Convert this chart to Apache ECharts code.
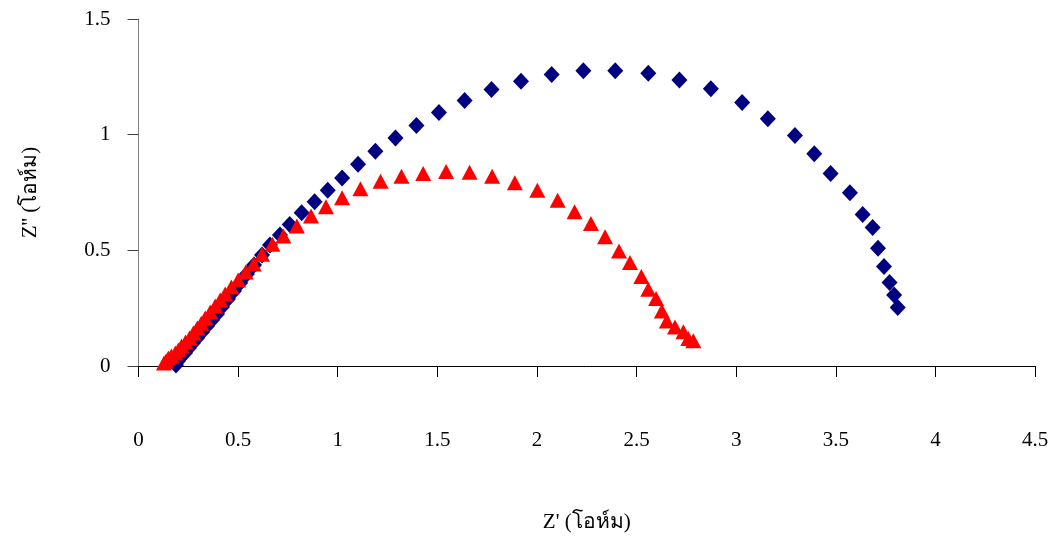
<!DOCTYPE html>
<html>
<head>
<meta charset="utf-8">
<script src="https://cdn.jsdelivr.net/npm/echarts@6/dist/echarts.min.js"></script>
<style>
  html, body { margin: 0; padding: 0; background: #fff; }
  #chart { width: 1056px; height: 545px; }
</style>
</head>
<body>
<div id="chart"></div>
<script>
// Nyquist plot: Z' (real part) vs Z'' (imaginary part), in ohms
const xTicks = [0, 0.5, 1, 1.5, 2, 2.5, 3, 3.5, 4, 4.5];
const yTicks = [0, 0.5, 1, 1.5];

// Sample 1 (navy diamonds)
const blueZre = [0.188, 0.198, 0.213, 0.233, 0.253, 0.273, 0.294, 0.319, 0.344, 0.369,
  0.394, 0.419, 0.449, 0.479, 0.510, 0.544, 0.580, 0.620, 0.660, 0.710,
  0.759, 0.819, 0.884, 0.950, 1.022, 1.102, 1.189, 1.290, 1.395, 1.508,
  1.637, 1.772, 1.920, 2.074, 2.233, 2.393, 2.559, 2.715, 2.873, 3.030,
  3.159, 3.295, 3.392, 3.474, 3.571, 3.635, 3.685, 3.712, 3.742, 3.770,
  3.793, 3.811];
const blueZim = [0.004, 0.022, 0.039, 0.056, 0.078, 0.099, 0.121, 0.147, 0.173, 0.199,
  0.225, 0.255, 0.290, 0.324, 0.359, 0.398, 0.437, 0.480, 0.523, 0.566,
  0.612, 0.663, 0.710, 0.760, 0.813, 0.872, 0.928, 0.986, 1.040, 1.096,
  1.148, 1.195, 1.231, 1.260, 1.276, 1.276, 1.266, 1.236, 1.198, 1.139,
  1.069, 0.996, 0.917, 0.832, 0.749, 0.655, 0.599, 0.509, 0.430, 0.361,
  0.307, 0.253];

// Sample 2 (red triangles)
const redZre = [0.128, 0.138, 0.150, 0.165, 0.185, 0.200, 0.216, 0.236, 0.256, 0.275,
  0.295, 0.315, 0.335, 0.360, 0.385, 0.410, 0.435, 0.466, 0.500, 0.538,
  0.578, 0.620, 0.672, 0.727, 0.795, 0.866, 0.941, 1.022, 1.114, 1.215,
  1.320, 1.429, 1.544, 1.662, 1.775, 1.889, 2.002, 2.104, 2.189, 2.271,
  2.342, 2.412, 2.467, 2.524, 2.559, 2.598, 2.627, 2.652, 2.693, 2.735,
  2.760, 2.785];
const redZim = [0.013, 0.022, 0.035, 0.043, 0.056, 0.069, 0.086, 0.104, 0.121, 0.143,
  0.164, 0.185, 0.207, 0.233, 0.259, 0.285, 0.311, 0.342, 0.372, 0.406,
  0.441, 0.483, 0.526, 0.562, 0.605, 0.648, 0.688, 0.727, 0.766, 0.799,
  0.820, 0.832, 0.841, 0.837, 0.820, 0.792, 0.760, 0.717, 0.667, 0.616,
  0.559, 0.497, 0.447, 0.387, 0.332, 0.292, 0.238, 0.195, 0.169, 0.148,
  0.119, 0.109];

const pairs = (xs, ys) => xs.map((x, i) => [x, ys[i]]);

const FONT = '"Liberation Serif", "Times New Roman", serif';
const chart = echarts.init(document.getElementById('chart'), null, { renderer: 'canvas' });

chart.setOption({
  animation: false,
  backgroundColor: '#ffffff',
  grid: { left: 138.5, right: 21, top: 19, bottom: 179, containLabel: false },
  xAxis: {
    type: 'value',
    min: xTicks[0], max: xTicks[xTicks.length - 1], interval: 0.5,
    name: "Z' (โอห์ม)",
    nameLocation: 'middle', nameGap: 146,
    nameTextStyle: { fontFamily: FONT, fontSize: 21, color: '#000' },
    axisLine: { show: true, onZero: false, lineStyle: { color: '#000', width: 1 } },
    axisTick: { show: true, inside: false, length: 11, lineStyle: { color: '#000' } },
    axisLabel: { margin: 64, fontFamily: FONT, fontSize: 21, color: '#000',
      formatter: v => String(v) },
    splitLine: { show: false }
  },
  yAxis: {
    type: 'value',
    min: yTicks[0], max: yTicks[yTicks.length - 1], interval: 0.5,
    name: "Z'' (โอห์ม)",
    nameLocation: 'middle', nameGap: 98, nameRotate: 90,
    nameTextStyle: { fontFamily: FONT, fontSize: 21, color: '#000' },
    axisLine: { show: true, lineStyle: { color: '#808080', width: 1 } },
    axisTick: { show: true, inside: false, length: 11, lineStyle: { color: '#404040' } },
    axisLabel: { margin: 28, fontFamily: FONT, fontSize: 21, color: '#000',
      formatter: v => String(v) },
    splitLine: { show: false }
  },
  series: [
    {
      type: 'scatter',
      data: pairs(blueZre, blueZim),
      symbol: 'diamond', symbolSize: [16, 17],
      itemStyle: { color: '#000080', opacity: 1 },
      z: 2
    },
    {
      type: 'scatter',
      data: pairs(redZre, redZim),
      symbol: 'triangle', symbolSize: [16, 15],
      itemStyle: { color: '#ff0000', opacity: 1 },
      z: 3
    }
  ]
});
</script>
</body>
</html>
